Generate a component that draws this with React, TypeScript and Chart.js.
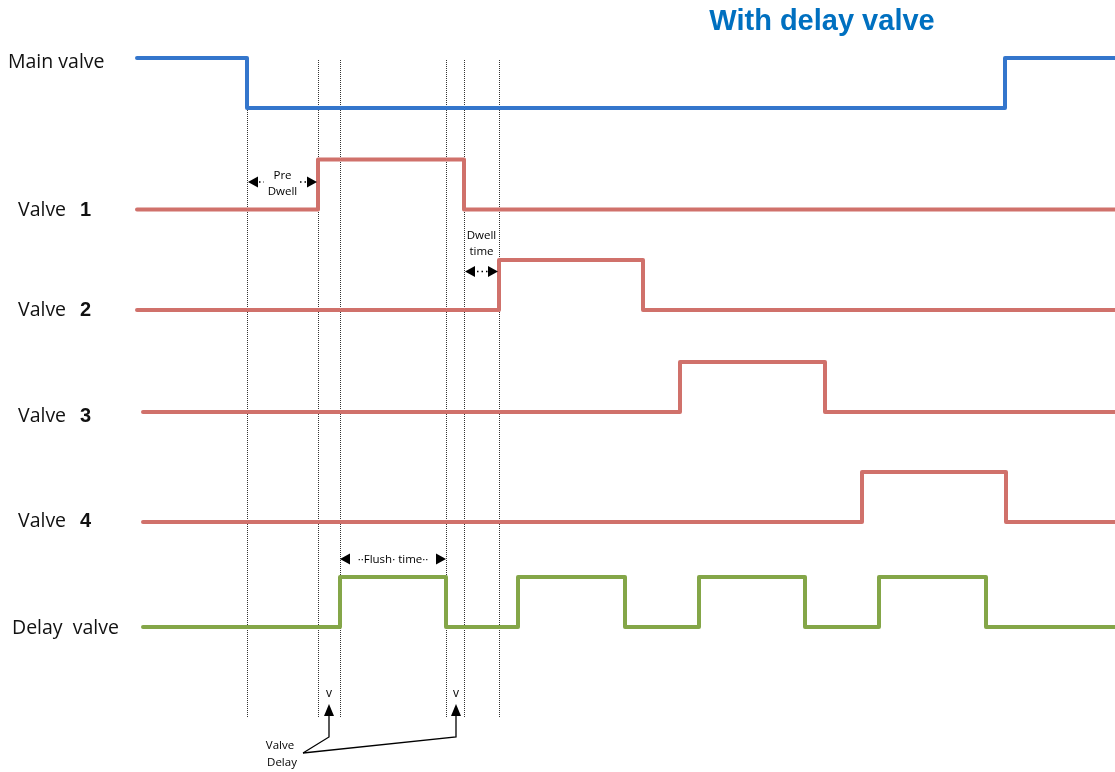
import React, { useEffect, useRef } from "react";
import { Chart, registerables } from "chart.js";
Chart.register(...registerables);

const W = 1115;
const H = 772;

// ---- time axis (arbitrary time units) ----
const axisStart = 0;
const axisEnd = 111.5;

// ---- signal rows ----
const rowNames = ["Main valve", "Valve", "Valve", "Valve", "Valve", "Delay  valve"];
const rowNumbers = ["", "1", "2", "3", "4", ""];
const rowColors = ["#3476CC", "#D0716B", "#D0716B", "#D0716B", "#D0716B", "#84A648"];

// step times and levels after each step (1 = open / high, 0 = closed / low)
const mainValveTimes = [13.7, 24.7, 100.5, 111.5];
const mainValveLevels = [1, 0, 1, 1];
const valve1Times = [13.7, 31.8, 46.4, 111.5];
const valve1Levels = [0, 1, 0, 0];
const valve2Times = [13.7, 49.9, 64.3, 111.5];
const valve2Levels = [0, 1, 0, 0];
const valve3Times = [14.3, 68.0, 82.5, 111.5];
const valve3Levels = [0, 1, 0, 0];
const valve4Times = [14.3, 86.2, 100.6, 111.5];
const valve4Levels = [0, 1, 0, 0];
const delayValveTimes = [14.3, 34.0, 44.6, 51.8, 62.5, 69.9, 80.5, 87.9, 98.6, 111.5];
const delayValveLevels = [0, 1, 0, 1, 0, 1, 0, 1, 0, 0];

// marker (event) times for dotted guide lines
const markerTimes = [24.7, 31.8, 34.0, 44.6, 46.4, 49.9];
const valveDelayTimes = [32.9, 45.6];

// vertical layout in track units (1 unit = one signal swing)
const yMax = 15.44;
const rowBase = [2.16, 4.19, 6.2, 8.24, 10.44, 12.54];
const labelY = [1.24, 4.2, 6.2, 8.32, 10.42, 12.56];

const titleText = "With delay valve";

const allTimes = [mainValveTimes, valve1Times, valve2Times, valve3Times, valve4Times, delayValveTimes];
const allLevels = [mainValveLevels, valve1Levels, valve2Levels, valve3Levels, valve4Levels, delayValveLevels];

const SMALL_FONT = "11.5px 'Open Sans', 'Noto Sans', sans-serif";
const LABEL_FONT = "19.5px 'Open Sans', 'Noto Sans', sans-serif";
const LABEL_BOLD = "bold 20px 'Liberation Sans', Arial, sans-serif";

function headH(ctx: CanvasRenderingContext2D, tipX: number, y: number, dir: number) {
  ctx.beginPath();
  ctx.moveTo(tipX, y);
  ctx.lineTo(tipX - dir * 10, y - 5.5);
  ctx.lineTo(tipX - dir * 10, y + 5.5);
  ctx.closePath();
  ctx.fill();
}
function headUp(ctx: CanvasRenderingContext2D, x: number, tipY: number) {
  ctx.beginPath();
  ctx.moveTo(x, tipY);
  ctx.lineTo(x - 5, tipY + 12);
  ctx.lineTo(x + 5, tipY + 12);
  ctx.closePath();
  ctx.fill();
}
function dots(ctx: CanvasRenderingContext2D, x1: number, x2: number, y: number) {
  ctx.save();
  ctx.setLineDash([1.5, 3]);
  ctx.lineWidth = 1.5;
  ctx.beginPath();
  ctx.moveTo(x1, y);
  ctx.lineTo(x2, y);
  ctx.stroke();
  ctx.restore();
}

const diagramPlugin = {
  id: "diagram",
  beforeDatasetsDraw(chart: any) {
    const ctx = chart.ctx as CanvasRenderingContext2D;
    const xs = chart.scales.x;
    const ys = chart.scales.y;
    ctx.save();
    ctx.strokeStyle = "#333";
    ctx.lineWidth = 1;
    ctx.setLineDash([1, 1]);
    const top = ys.getPixelForValue(1.2);
    const bot = ys.getPixelForValue(14.36);
    markerTimes.forEach((t) => {
      const x = Math.round(xs.getPixelForValue(t)) + 0.5;
      ctx.beginPath();
      ctx.moveTo(x, top);
      ctx.lineTo(x, bot);
      ctx.stroke();
    });
    ctx.restore();
  },
  afterDatasetsDraw(chart: any) {
    const ctx = chart.ctx as CanvasRenderingContext2D;
    const xs = chart.scales.x;
    const ys = chart.scales.y;
    const px = (t: number) => xs.getPixelForValue(t);
    const py = (v: number) => ys.getPixelForValue(v);
    ctx.save();
    // title
    ctx.fillStyle = "#0070C0";
    ctx.font = "bold 29px 'Liberation Sans', Arial, sans-serif";
    ctx.textAlign = "center";
    ctx.textBaseline = "middle";
    ctx.fillText(titleText, 822, 22);

    // row labels
    ctx.fillStyle = "#111";
    ctx.textAlign = "left";
    rowNames.forEach((name, i) => {
      const y = py(labelY[i]);
      const x = i === 0 ? 8 : i === 5 ? 12 : 18;
      ctx.font = LABEL_FONT;
      ctx.fillText(name, x, y);
      if (rowNumbers[i]) {
        ctx.font = LABEL_BOLD;
        ctx.fillText(rowNumbers[i], 80, y);
      }
    });

    ctx.fillStyle = "#000";
    ctx.strokeStyle = "#000";
    ctx.font = SMALL_FONT;
    ctx.textAlign = "center";

    // Pre Dwell
    {
      const a = px(markerTimes[0]);
      const b = px(markerTimes[1]);
      const y = py(3.64);
      headH(ctx, a + 1, y, -1);
      headH(ctx, b - 1, y, 1);
      dots(ctx, a + 12, a + 17, y);
      dots(ctx, b - 18, b - 10, y);
      ctx.fillText("Pre", (a + b) / 2, y - 6);
      ctx.fillText("Dwell", (a + b) / 2, y + 10);
    }
    // Dwell time
    {
      const a = px(markerTimes[4]);
      const b = px(markerTimes[5]);
      const y = py(5.43);
      headH(ctx, a + 1, y, -1);
      headH(ctx, b - 1, y, 1);
      dots(ctx, a + 13, b - 11, y);
      ctx.fillText("Dwell", (a + b) / 2, y - 36);
      ctx.fillText("time", (a + b) / 2, y - 20);
    }
    // Flush time
    {
      const a = px(markerTimes[2]);
      const b = px(markerTimes[3]);
      const y = py(11.18);
      headH(ctx, a, y, -1);
      headH(ctx, b, y, 1);
      ctx.fillText("\u00b7\u00b7Flush\u00b7 time\u00b7\u00b7", (a + b) / 2, y + 1);
    }
    // Valve delay markers
    {
      const yV = py(13.87);
      const tip = py(14.08);
      const bend = py(14.74);
      const tx = 280;
      const ty = py(15.06);
      ctx.font = "12px 'Open Sans', 'Noto Sans', sans-serif";
      valveDelayTimes.forEach((t) => {
        const x = px(t);
        ctx.fillText("v", x, yV);
        headUp(ctx, x, tip);
        ctx.lineWidth = 1.3;
        ctx.beginPath();
        ctx.moveTo(x, tip + 10);
        ctx.lineTo(x, bend);
        ctx.lineTo(tx + 23, ty);
        ctx.stroke();
      });
      ctx.font = SMALL_FONT;
      ctx.fillText("Valve", tx, ty - 7);
      ctx.fillText("Delay", tx + 2, ty + 10);
    }
    ctx.restore();
  },
};

export default function App() {
  const ref = useRef<HTMLCanvasElement | null>(null);
  useEffect(() => {
    if (!ref.current) return;
    const datasets = allTimes.map((times, k) => ({
      label: rowNames[k] + (rowNumbers[k] ? " " + rowNumbers[k] : ""),
      data: times.map((t, i) => ({ x: t, y: rowBase[k] - allLevels[k][i] })),
      borderColor: rowColors[k],
      backgroundColor: rowColors[k],
      borderWidth: 4,
      stepped: "before" as const,
      pointRadius: 0,
      fill: false,
      borderCapStyle: "round" as const,
      borderJoinStyle: "round" as const,
    }));
    const chart = new Chart(ref.current, {
      type: "line",
      data: { datasets },
      options: {
        responsive: false,
        maintainAspectRatio: false,
        animation: false,
        layout: { padding: 0 },
        plugins: { legend: { display: false }, tooltip: { enabled: false }, title: { display: false } },
        scales: {
          x: { type: "linear", min: axisStart, max: axisEnd, display: false },
          y: { type: "linear", min: 0, max: yMax, reverse: true, display: false },
        },
      },
      plugins: [diagramPlugin],
    });
    return () => chart.destroy();
  }, []);
  return (
    <div style={{ position: "absolute", left: 0, top: 0, width: W, height: H, background: "#fff" }}>
      <canvas ref={ref} width={W} height={H} style={{ display: "block" }} />
    </div>
  );
}
